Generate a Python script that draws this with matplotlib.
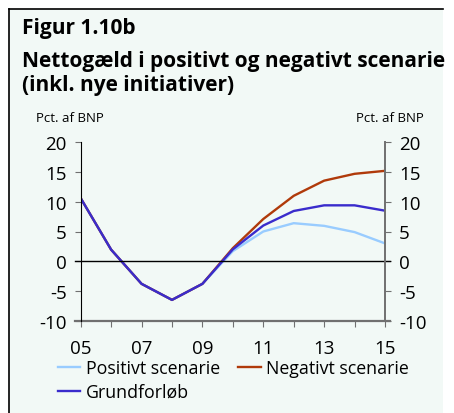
import matplotlib.pyplot as plt
from matplotlib.patches import Rectangle
from matplotlib.lines import Line2D

# data
years = [2005, 2006, 2007, 2008, 2009, 2010, 2011, 2012, 2013, 2014, 2015]
year_labels = ['05', '', '07', '', '09', '', '11', '', '13', '', '15']
positivt = [10.6, 1.95, -3.8, -6.5, -3.8, 1.7, 5.0, 6.4, 5.95, 4.9, 3.0]
negativt = [10.6, 1.95, -3.8, -6.5, -3.8, 2.2, 7.1, 11.0, 13.55, 14.7, 15.2]
grund = [10.6, 1.95, -3.8, -6.5, -3.8, 2.0, 6.0, 8.45, 9.4, 9.4, 8.5]

plt.rcParams['font.family'] = ['Open Sans', 'DejaVu Sans']
plt.rcParams['axes.unicode_minus'] = False

bg = '#f2f9f6'
c_pos = '#99ccff'
c_neg = '#b03a0a'
c_grund = '#3a2ccc'
grey = '#707070'

W, H = 454, 414
fig = plt.figure(figsize=(W / 100, H / 100), dpi=100)
fig.patch.set_facecolor('white')

# mint box with black top/left border
fig.patches.append(Rectangle((9 / W, 0), (443 - 9) / W, 1 - 10 / H,
                             transform=fig.transFigure, facecolor=bg, edgecolor='none', zorder=-5))
fig.lines.append(Line2D([9 / W, 443 / W], [1 - 10 / H, 1 - 10 / H], transform=fig.transFigure,
                        color='black', lw=1.2, zorder=-4))
fig.lines.append(Line2D([9 / W, 9 / W], [0, 1 - 10 / H], transform=fig.transFigure,
                        color='black', lw=1.2, zorder=-4))

fig.text(22 / W, 1 - 34 / H, 'Figur 1.10b', fontsize=15, fontweight='bold', va='baseline')
fig.text(22 / W, 1 - 67 / H, 'Nettogæld i positivt og negativt scenarie', fontsize=15,
         fontweight='bold', va='baseline')
fig.text(22 / W, 1 - 90.5 / H, '(inkl. nye initiativer)', fontsize=15, fontweight='bold', va='baseline')
fig.text(36 / W, 1 - 122 / H, 'Pct. af BNP', fontsize=9.5, va='baseline')
fig.text(424 / W, 1 - 122 / H, 'Pct. af BNP', fontsize=9.5, va='baseline', ha='right')

ax = fig.add_axes([80.7 / W, 1 - 321.7 / H, (385 - 80.7) / W, (321.7 - 143.3) / H])
ax.set_zorder(2)
ax.set_facecolor('none')

l_pos, = ax.plot(years, positivt, color=c_pos, lw=1.7, label='Positivt scenarie')
l_neg, = ax.plot(years, negativt, color=c_neg, lw=1.7, label='Negativt scenarie')
l_grund, = ax.plot(years, grund, color=c_grund, lw=1.7, label='Grundforløb')

ax.set_xlim(2005, 2015)
ax.set_ylim(-10, 20)
ax.axhline(0, xmin=-0.018, xmax=1.018, color='black', lw=1, clip_on=False)
ax.axhline(-10, xmin=-0.018, xmax=1.018, color=grey, lw=1.6, clip_on=False)

for s in ['top', 'bottom']:
    ax.spines[s].set_visible(False)
ax.spines['left'].set_color('black')
ax.spines['right'].set_color(grey)
ax.spines['right'].set_linewidth(1.4)

ax.set_xticks(years)
ax.set_xticklabels(year_labels)
ax.tick_params(axis='x', direction='out', length=4, color=grey, labelsize=13.5, pad=9)
ax.set_yticks([-10, -5, 0, 5, 10, 15, 20])
ax.tick_params(axis='y', direction='out', length=4.5, color=grey, labelsize=13.5,
               left=True, right=True, labelleft=True, labelright=True, pad=5.5)

# column-wise fill: pos, grund in col 1 / neg in col 2
ax.legend([l_pos, l_grund, l_neg], ['Positivt scenarie', 'Grundforløb', 'Negativt scenarie'],
          loc='upper left', bbox_to_anchor=(58 / W, 1 - 360 / H), bbox_transform=fig.transFigure,
          ncol=2, frameon=False, fontsize=12.8, handlelength=1.25, handletextpad=0.3,
          columnspacing=1.05, labelspacing=0.33, borderaxespad=0, borderpad=0)

fig.savefig('out.png', dpi=100, facecolor='white')
